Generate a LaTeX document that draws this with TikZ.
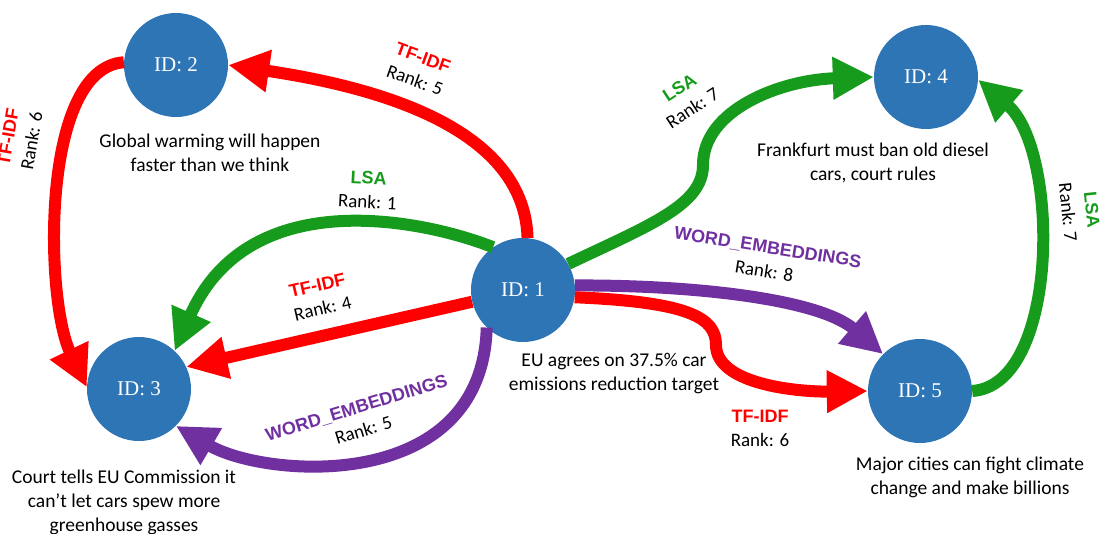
\documentclass[tikz,border=0pt]{standalone}
\usepackage{fontspec}
\setmainfont{Carlito}
\newfontfamily\idfont{Liberation Serif}
\newfontfamily\tagfont{Liberation Sans}
\usetikzlibrary{arrows.meta}
\definecolor{nodeblue}{HTML}{2E75B6}
\definecolor{lsagreen}{HTML}{169B1C}
\definecolor{wepurple}{HTML}{7030A0}
\definecolor{tfred}{HTML}{FF0000}
\newcommand{\method}[2]{{\tagfont\bfseries\fontsize{18}{24}\selectfont\color{#1}#2}}

\tikzset{
  idnode/.style={circle, fill=nodeblue, minimum size=104pt, inner sep=0pt,
    text=white, font=\idfont\fontsize{21}{24}\selectfont},
  desc/.style={align=center, font=\fontsize{19.5}{24}\selectfont},
  rank/.style={align=center, font=\fontsize{19}{24}\selectfont},
  link/.style={line width=12pt, -{Triangle[length=41pt,width=40pt]}},
}

\begin{document}
\begin{tikzpicture}[x=1pt, y=-1pt]
            \useasboundingbox (0,0) rectangle (1103,533);

            % articles
            \foreach \i/\x/\y in {1/523/290, 2/176/65, 3/139/389, 4/926/77, 5/920/391} {
                \node (n\i) at (\x,\y) [idnode] {ID: \i};
            }

            \node (d1) at (614,374) [desc] {EU agrees on 37.5\% car\\emissions reduction target};
            \node (d2) at (210,153) [desc] {Global warming will happen\\faster than we think};
            \node (d3) at (124,502) [desc] {Court tells EU Commission it\\can’t let cars spew more\\greenhouse gasses};
            \node (d4) at (873,163) [desc] {Frankfurt must ban old diesel\\cars, court rules};
            \node (d5) at (970,477) [desc] {Major cities can fight climate\\change and make billions};

            % recommendations
            \draw[link, tfred] (n1.85) .. controls (525,150) and (430,95) .. (n2.east);
            \draw[link, tfred] (n2.177) .. controls (40,68) and (45,300) .. (n3.178);
            \draw[link, lsagreen] (n1.125) .. controls (430,222) and (250,180) .. (n3.47);
            \draw[link, tfred] (n1.193) -- (n3.25);
            \draw[link, wepurple] (n1.226) .. controls (482,495) and (265,478) .. (n3.-45);
            \draw[link, lsagreen] (n1.30) .. controls (650,225) and (703,205) .. (703,165)
                .. controls (703,110) and (780,80) .. (n4.west);
            \draw[link, lsagreen] (n5.east) .. controls (1060,385) and (1060,150) .. (n4.-3);
            \draw[link, wepurple] (n1.5) .. controls (700,285) and (820,300) .. (n5.135);
            \draw[link, tfred] (n1.-8) .. controls (690,302) and (716,318) .. (716,345)
                .. controls (716,385) and (800,392) .. (n5.west);

            % methods and ranks
            \node (r12) at (419,69) [rank, rotate=-20] {\method{tfred}{TF-IDF}\\Rank: 5};
            \node (r23) at (20,139) [rank, rotate=80] {\method{tfred}{TF-IDF}\\Rank: 6};
            \node (r13a) at (368,190) [rank, rotate=-3] {\method{lsagreen}{LSA}\\Rank: 1};
            \node (r13b) at (320,297) [rank, rotate=13] {\method{tfred}{TF-IDF}\\Rank: 4};
            \node (r13c) at (360,419) [rank, rotate=17] {\method{wepurple}{WORD\_EMBEDDINGS}\\Rank: 5};
            \node (r14) at (686,98) [rank, rotate=33] {\method{lsagreen}{LSA}\\Rank: 7};
            \node (r54) at (1080,211) [rank, rotate=-84] {\method{lsagreen}{LSA}\\Rank: 7};
            \node (r15a) at (766,259) [rank, rotate=-9] {\method{wepurple}{WORD\_EMBEDDINGS}\\Rank: 8};
            \node (r15b) at (760,428) [rank] {\method{tfred}{TF-IDF}\\Rank: 6};
        \end{tikzpicture}
\end{document}
